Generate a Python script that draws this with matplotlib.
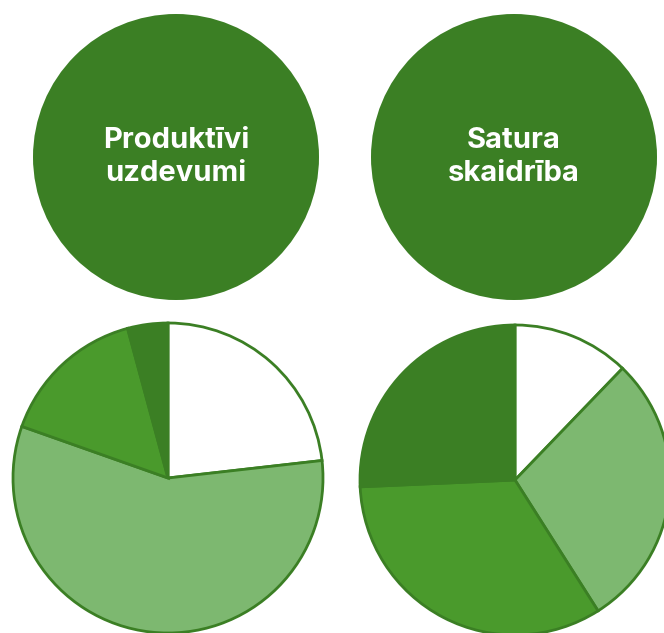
import matplotlib.pyplot as plt
from matplotlib.patches import Circle

# Labels in the top circles
titles = ["Produktīvi\nuzdevumi", "Satura\nskaidrība"]

# Pie shares (clockwise from 12 o'clock), percent
left_shares = [23.2, 57.2, 15.4, 4.2]
right_shares = [12.2, 28.8, 33.3, 25.7]

white = "#ffffff"
light = "#7db870"
mid = "#4a9a2c"
dark = "#3b7f24"
slice_colors = [white, light, mid, dark]

W, H = 664, 633
fig = plt.figure(figsize=(W / 100, H / 100), dpi=100)
ax = fig.add_axes([0, 0, 1, 1])

# Top circles with text
for cx, title in zip([176, 514], titles):
    ax.add_patch(Circle((cx, H - 157), 143, color=dark, lw=0))
    ax.text(cx, H - 157, title, ha="center", va="center", color="white",
            fontsize=21, fontweight="bold", family="Inter", linespacing=1.3)

# Bottom pies
for (cx, cy), shares in zip([(168, 478), (515, 480)], [left_shares, right_shares]):
    ax.pie(shares, colors=slice_colors, startangle=90, counterclock=False,
           center=(cx, H - cy), radius=155,
           wedgeprops=dict(edgecolor=dark, linewidth=2))

ax.set_xlim(0, W)
ax.set_ylim(0, H)
ax.set_aspect("equal")
ax.axis("off")

fig.savefig("out.png", dpi=100)
